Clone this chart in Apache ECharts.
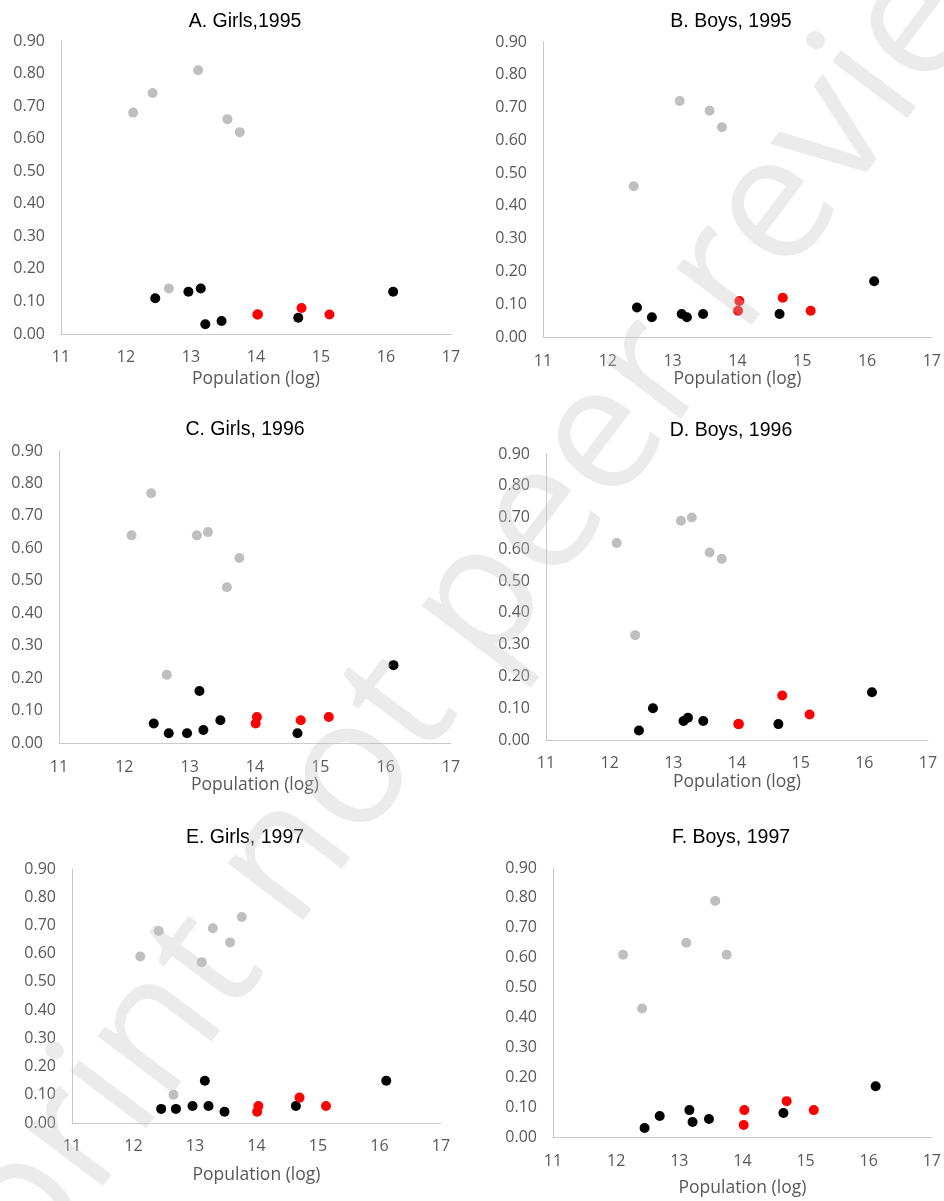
<!DOCTYPE html>
<html>
<head>
<meta charset="utf-8">
<script src="https://cdn.jsdelivr.net/npm/echarts@6/dist/echarts.min.js"></script>
<style>
html,body{margin:0;padding:0;background:#fff;}
#chart{width:944px;height:1201px;}
</style>
</head>
<body>
<div id="chart"></div>
<script>
// ---- Data ----
var panelTitles = ['A. Girls,1995', 'B. Boys, 1995', 'C. Girls, 1996', 'D. Boys, 1996', 'E. Girls, 1997', 'F. Boys, 1997'];
var xTicks = [11, 12, 13, 14, 15, 16, 17];
var yTicks = [0, 0.1, 0.2, 0.3, 0.4, 0.5, 0.6, 0.7, 0.8, 0.9];
var xAxisName = 'Population (log)';

var girls1995Gray  = [[12.11,0.68],[12.41,0.74],[12.66,0.14],[13.11,0.81],[13.56,0.66],[13.75,0.62]];
var girls1995Black = [[12.45,0.11],[12.96,0.13],[13.15,0.14],[13.22,0.03],[13.47,0.04],[14.65,0.05],[16.11,0.13]];
var girls1995Red   = [[14.02,0.06],[14.03,0.06],[14.70,0.08],[15.13,0.06]];

var boys1995Gray  = [[12.40,0.46],[13.11,0.72],[13.57,0.69],[13.76,0.64]];
var boys1995Black = [[12.45,0.09],[12.68,0.06],[13.14,0.07],[13.22,0.06],[13.47,0.07],[14.65,0.07],[16.11,0.17]];
var boys1995Red   = [[14.03,0.11],[14.01,0.08],[14.70,0.12],[15.13,0.08]];

var girls1996Gray  = [[12.11,0.64],[12.41,0.77],[12.65,0.21],[13.11,0.64],[13.28,0.65],[13.57,0.48],[13.76,0.57]];
var girls1996Black = [[12.45,0.06],[12.68,0.03],[12.96,0.03],[13.15,0.16],[13.21,0.04],[13.47,0.07],[14.65,0.03],[16.12,0.24]];
var girls1996Red   = [[14.03,0.08],[14.01,0.06],[14.70,0.07],[15.13,0.08]];

var boys1996Gray  = [[12.11,0.62],[12.40,0.33],[13.12,0.69],[13.29,0.70],[13.57,0.59],[13.76,0.57]];
var boys1996Black = [[12.46,0.03],[12.68,0.10],[13.16,0.06],[13.23,0.07],[13.47,0.06],[14.65,0.05],[16.12,0.15]];
var boys1996Red   = [[14.02,0.05],[14.03,0.05],[14.71,0.14],[15.14,0.08]];

var girls1997Gray  = [[12.11,0.59],[12.41,0.68],[12.65,0.10],[13.11,0.57],[13.29,0.69],[13.57,0.64],[13.76,0.73]];
var girls1997Black = [[12.45,0.05],[12.69,0.05],[12.96,0.06],[13.16,0.15],[13.22,0.06],[13.48,0.04],[14.64,0.06],[16.11,0.15]];
var girls1997Red   = [[14.03,0.06],[14.01,0.04],[14.70,0.09],[15.13,0.06]];

var boys1997Gray  = [[12.11,0.61],[12.41,0.43],[13.11,0.65],[13.57,0.79],[13.75,0.61]];
var boys1997Black = [[12.45,0.03],[12.69,0.07],[13.16,0.09],[13.21,0.05],[13.47,0.06],[14.65,0.08],[16.11,0.17]];
var boys1997Red   = [[14.03,0.09],[14.02,0.04],[14.70,0.12],[15.13,0.09]];

var watermarkText = 'preprint not peer reviewed';

// ---- Layout / style ----
var panels = [
  {gray: girls1995Gray, black: girls1995Black, red: girls1995Red, grid: {left: 61,  top: 41,  width: 390, height: 293}, title: [240, 7],   lm: 15, ng: 36},
  {gray: boys1995Gray,  black: boys1995Black,  red: boys1995Red,  grid: {left: 543, top: 42,  width: 392, height: 295}, title: [726, 7],   lm: 16, ng: 30},
  {gray: girls1996Gray, black: girls1996Black, red: girls1996Red, grid: {left: 59,  top: 451, width: 392, height: 292}, title: [240, 415], lm: 16, ng: 33},
  {gray: boys1996Gray,  black: boys1996Black,  red: boys1996Red,  grid: {left: 546, top: 454, width: 382, height: 286}, title: [726, 416], lm: 15, ng: 33},
  {gray: girls1997Gray, black: girls1997Black, red: girls1997Red, grid: {left: 72,  top: 869, width: 369, height: 254}, title: [240, 823], lm: 15, ng: 43},
  {gray: boys1997Gray,  black: boys1997Black,  red: boys1997Red,  grid: {left: 553, top: 868, width: 379, height: 269}, title: [726, 823], lm: 16, ng: 42}
];

var axisColor = '#C9C9C9';
var labelColor = '#595959';
var tickFont = '"Open Sans", sans-serif';

var option = {
  animation: false,
  backgroundColor: '#fff',
  title: [], grid: [], xAxis: [], yAxis: [], series: [],
  graphic: [{
    type: 'text', x: 486, y: 594, rotation: 53 * Math.PI / 180, z: 100, silent: true,
    style: {text: watermarkText, font: '500 176px "Open Sans"', fill: 'rgba(194,194,194,0.33)', align: 'center', verticalAlign: 'middle'}
  }]
};

panels.forEach(function (p, i) {
  option.title.push({
    text: panelTitles[i], left: p.title[0], top: p.title[1], textAlign: 'center',
    textStyle: {fontFamily: '"Liberation Sans", Arial, sans-serif', fontSize: 19.5, fontWeight: 'normal', color: '#000'}
  });
  option.grid.push(p.grid);
  option.xAxis.push({
    type: 'value', gridIndex: i, min: xTicks[0], max: xTicks[xTicks.length - 1], interval: 1,
    name: xAxisName, nameLocation: 'middle', nameGap: p.ng,
    nameTextStyle: {fontFamily: tickFont, fontSize: 17.5, color: labelColor},
    axisLine: {show: true, onZero: false, lineStyle: {color: axisColor, width: 1}},
    axisTick: {show: false}, splitLine: {show: false},
    axisLabel: {margin: p.lm, fontFamily: tickFont, fontSize: 16, color: labelColor}
  });
  option.yAxis.push({
    type: 'value', gridIndex: i, min: yTicks[0], max: yTicks[yTicks.length - 1], interval: 0.1,
    axisLine: {show: true, onZero: false, lineStyle: {color: axisColor, width: 1}},
    axisTick: {show: false}, splitLine: {show: false},
    axisLabel: {margin: 16, fontFamily: tickFont, fontSize: 16, color: labelColor,
      formatter: function (v) { return v.toFixed(2); }}
  });
  [['gray', '#BFBFBF'], ['black', '#000000'], ['red', '#FF0000']].forEach(function (g) {
    option.series.push({
      type: 'scatter', xAxisIndex: i, yAxisIndex: i, data: p[g[0]],
      symbol: 'circle', symbolSize: 10, itemStyle: {color: g[1], opacity: 1},
      emphasis: {disabled: true}
    });
  });
});

var chart = echarts.init(document.getElementById('chart'), null, {renderer: 'canvas'});
chart.setOption(option);
</script>
</body>
</html>
